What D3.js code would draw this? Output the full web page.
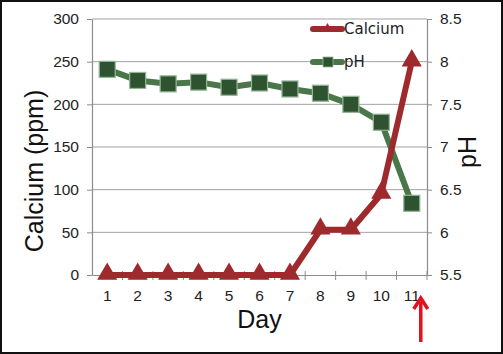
<!DOCTYPE html>
<html>
<head>
<meta charset="utf-8">
<script src="https://cdn.jsdelivr.net/npm/d3@7"></script>
<style>
  body { margin: 0; background: #fff; }
  svg { font-family: "Liberation Sans", Arial, sans-serif; display: block; }
</style>
</head>
<body>
<svg id="drawing_region"></svg>
<script>
const days = [1, 2, 3, 4, 5, 6, 7, 8, 9, 10, 11];
const calcium = [0, 0, 0, 0, 0, 0, 0, 53, 53, 95, 250];
const ph = [7.91, 7.78, 7.74, 7.76, 7.70, 7.75, 7.68, 7.63, 7.50, 7.29, 6.34];
const leftTicks = [0, 50, 100, 150, 200, 250, 300];
const rightTicks = [5.5, 6, 6.5, 7, 7.5, 8, 8.5];

const width = 503, height = 354;
const margin = {top: 19, right: 76, bottom: 79, left: 92};
const red = '#9e2a2d', green = '#4a774a', greenDark = '#2f5331';

const svg = d3.select('#drawing_region')
    .attr('width', width)
    .attr('height', height);

svg.append('rect')
    .attr('x', 1).attr('y', 1)
    .attr('width', width - 2).attr('height', height - 2)
    .attr('fill', '#fff')
    .attr('stroke', '#111')
    .attr('stroke-width', 2);

const xscale = d3.scaleBand()
    .domain(days)
    .range([margin.left, width - margin.right])
    .padding(0);
const xc = d => xscale(d) + xscale.bandwidth() / 2;

const yleft = d3.scaleLinear()
    .domain([0, 300])
    .range([height - margin.bottom, margin.top]);
const yright = d3.scaleLinear()
    .domain([5.5, 8.5])
    .range([height - margin.bottom, margin.top]);

// gridlines
svg.append('g')
    .selectAll('line')
    .data(leftTicks.filter(d => d > 0))
    .join('line')
    .attr('x1', margin.left).attr('x2', width - margin.right)
    .attr('y1', d => yleft(d)).attr('y2', d => yleft(d))
    .attr('stroke', '#a3a3a3')
    .attr('stroke-width', 1);

// left axis
const leftAxis = svg.append('g')
    .attr('transform', `translate(${margin.left},0)`)
    .call(d3.axisLeft(yleft).tickValues(leftTicks).tickSize(5).tickSizeOuter(0).tickPadding(8));
// right axis
const rightAxis = svg.append('g')
    .attr('transform', `translate(${width - margin.right},0)`)
    .call(d3.axisRight(yright).tickValues(rightTicks).tickFormat(d3.format('')).tickSize(5).tickSizeOuter(0).tickPadding(8));
// bottom axis
const bottomAxis = svg.append('g')
    .attr('transform', `translate(0,${height - margin.bottom})`)
    .call(d3.axisBottom(xscale).tickSize(0).tickPadding(15));

[leftAxis, rightAxis, bottomAxis].forEach(g => {
    g.select('.domain').attr('stroke', '#8c8c8c').attr('stroke-width', 1.2);
    g.selectAll('.tick line').attr('stroke', '#8c8c8c');
    g.selectAll('.tick text').attr('font-size', 15.5).attr('fill', '#222')
        .attr('font-family', '"Liberation Sans", Arial, sans-serif');
});

// category boundary ticks crossing the x axis
svg.append('g')
    .selectAll('line')
    .data(days.slice(1).concat(['end']))
    .join('line')
    .attr('x1', d => d === 'end' ? width - margin.right : xscale(d))
    .attr('x2', d => d === 'end' ? width - margin.right : xscale(d))
    .attr('y1', height - margin.bottom - 4)
    .attr('y2', height - margin.bottom + 5)
    .attr('stroke', '#8c8c8c');

// pH series
const phLine = d3.line().x((d, i) => xc(days[i])).y(d => yright(d));
svg.append('path')
    .attr('d', phLine(ph))
    .attr('fill', 'none')
    .attr('stroke', green)
    .attr('stroke-width', 6)
    .attr('stroke-linejoin', 'round');
svg.append('g')
    .selectAll('rect')
    .data(ph)
    .join('rect')
    .attr('x', (d, i) => xc(days[i]) - 8)
    .attr('y', d => yright(d) - 8)
    .attr('width', 16).attr('height', 16)
    .attr('fill', greenDark)
    .attr('stroke', '#93b593')
    .attr('stroke-width', 1.2);

// Calcium series
const caLine = d3.line().x((d, i) => xc(days[i])).y(d => yleft(d));
svg.append('path')
    .attr('d', caLine(calcium))
    .attr('fill', 'none')
    .attr('stroke', red)
    .attr('stroke-width', 6)
    .attr('stroke-linejoin', 'round');
const tri = d3.symbol().type(d3.symbolTriangle).size(175);
svg.append('g')
    .selectAll('path')
    .data(calcium)
    .join('path')
    .attr('d', tri)
    .attr('transform', (d, i) => `translate(${xc(days[i])},${yleft(d) - 1})`)
    .attr('fill', red);

// legend
const legend = svg.append('g').attr('transform', 'translate(313,0)');
const legendItems = [
    {name: 'Calcium', y: 29, color: red, kind: 'tri'},
    {name: 'pH', y: 62, color: green, kind: 'sq'}
];
legendItems.forEach(it => {
    legend.append('line')
        .attr('x1', 0).attr('x2', 29)
        .attr('y1', it.y).attr('y2', it.y)
        .attr('stroke', it.color)
        .attr('stroke-width', 6)
        .attr('stroke-linecap', 'round');
    if (it.kind === 'tri') {
        legend.append('path')
            .attr('d', d3.symbol().type(d3.symbolTriangle).size(45)())
            .attr('transform', `translate(14.5,${it.y})`)
            .attr('fill', red);
    } else {
        legend.append('rect')
            .attr('x', 10).attr('y', it.y - 5)
            .attr('width', 10).attr('height', 10)
            .attr('fill', greenDark)
            .attr('stroke', '#93b593')
            .attr('stroke-width', 0.8);
    }
    legend.append('text')
        .attr('x', 31).attr('y', it.y + 5)
        .attr('font-size', 15)
        .attr('font-family', '"DejaVu Sans", sans-serif')
        .attr('fill', '#222')
        .text(it.name);
});

// axis titles
svg.append('text')
    .attr('transform', 'translate(43,171) rotate(-90)')
    .attr('text-anchor', 'middle')
    .attr('font-size', 25)
    .attr('fill', '#111')
    .text('Calcium (ppm)');
svg.append('text')
    .attr('transform', 'translate(476,152) rotate(-90)')
    .attr('text-anchor', 'middle')
    .attr('font-size', 25)
    .attr('fill', '#111')
    .text('pH');
svg.append('text')
    .attr('x', (margin.left + width - margin.right) / 2)
    .attr('y', 328)
    .attr('text-anchor', 'middle')
    .attr('font-size', 25)
    .attr('fill', '#111')
    .text('Day');

// red arrow annotation under the last day
const ax = xc(days[days.length - 1]) + 9;
svg.append('line')
    .attr('x1', ax).attr('x2', ax)
    .attr('y1', 342).attr('y2', 302)
    .attr('stroke', '#e0141c')
    .attr('stroke-width', 3.5);
svg.append('path')
    .attr('d', `M${ax - 7},${309} L${ax},${298} L${ax + 7},${309}`)
    .attr('fill', 'none')
    .attr('stroke', '#e0141c')
    .attr('stroke-width', 3.5)
    .attr('stroke-linejoin', 'miter');
</script>
</body>
</html>
